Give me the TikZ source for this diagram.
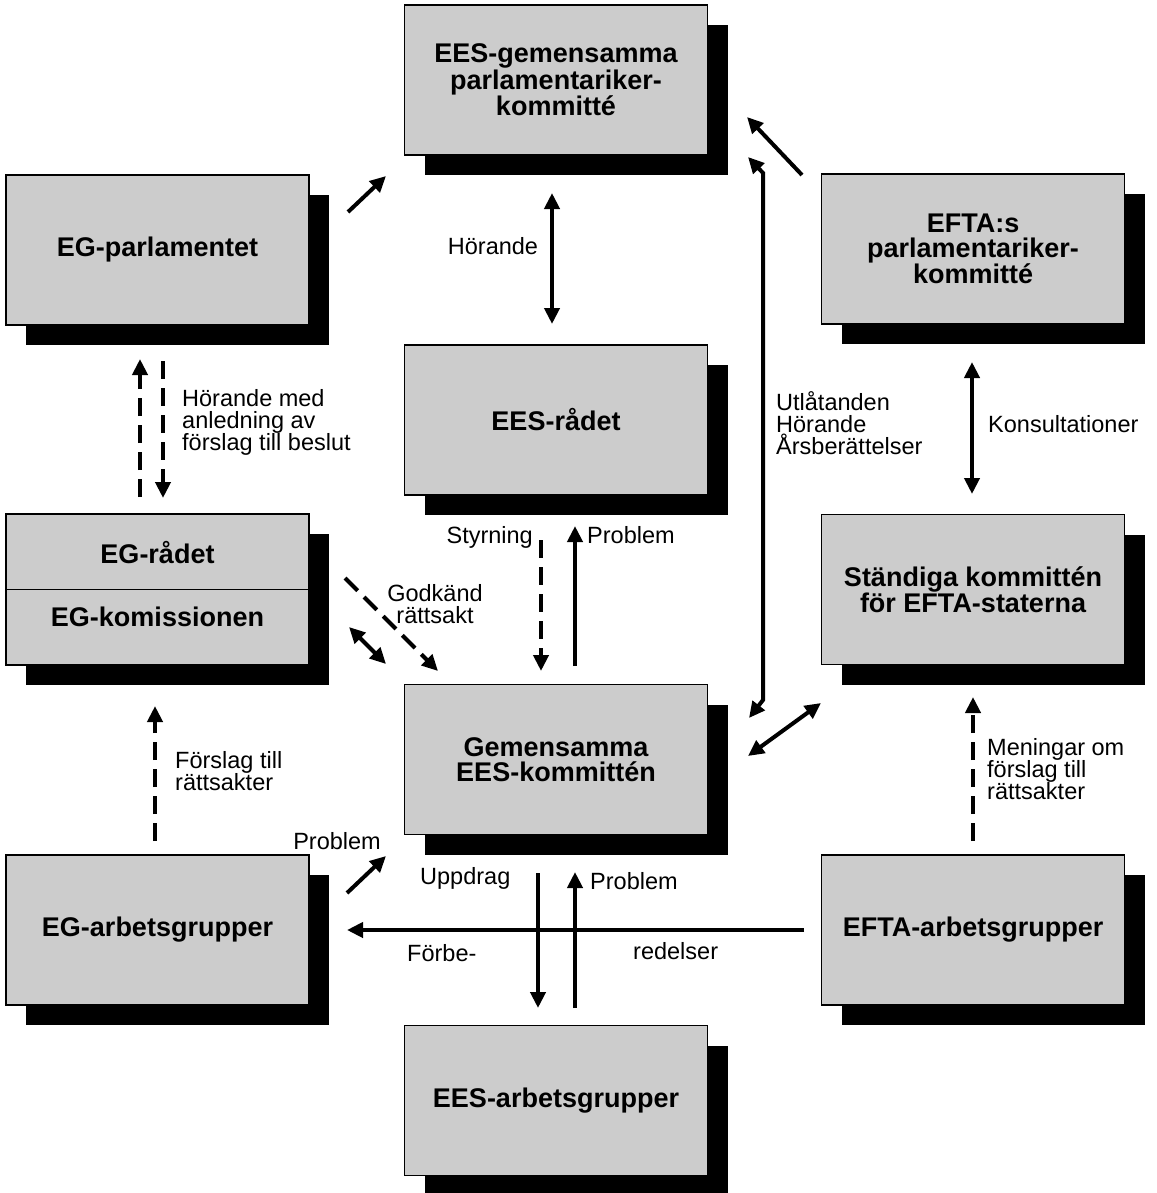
\documentclass[tikz,border=0pt]{standalone}
\usepackage{fontspec}
\setmainfont{Liberation Sans}
\usetikzlibrary{arrows.meta,shadows}
\newcommand\bxfont{\bfseries\fontsize{27}{25}\selectfont}
\newcommand\lbfont{\fontsize{23.5}{22}\selectfont}
\begin{document}
\begin{tikzpicture}[x=1pt,y=-1pt,
  box/.style={draw=black, line width=1.4pt, fill=black!20, minimum width=303pt, minimum height=150pt,
    inner sep=0pt, align=center, font=\bxfont,
    drop shadow={shadow xshift=20pt, shadow yshift=-20pt, fill=black, opacity=1}},
  txt/.style={inner sep=0pt, align=center, font=\bxfont},
  lab/.style={inner sep=0pt, align=left, font=\lbfont},
  arr/.style={line width=4pt, -{Triangle[length=16pt,width=15pt]}},
  darr/.style={line width=4pt, {Triangle[length=16pt,width=15pt]}-{Triangle[length=16pt,width=15pt]}},
  dsh/.style={dash pattern=on 18pt off 9pt}]
\useasboundingbox (0,0) rectangle (1156,1193);

% boxes
\node[box] (eesgem) at (556,80) {EES-gemensamma\\parlamentariker-\\kommitté};
\node[box] (egparl) at (157.5,250) {EG-parlamentet};
\node[box] (eftas) at (973,249) {EFTA:s\\parlamentariker-\\kommitté};
\node[box] (eesrad) at (556,420) {EES-rådet};
\node[box, minimum height=151pt] (egr) at (157.5,589.5) {};
\draw[line width=1.4pt] (egr.west) -- (egr.east);
\node[txt] (egrad) at (157.5,553) {EG-rådet};
\node[txt] (egkom) at (157.5,617) {EG-komissionen};
\node[box] (stand) at (973,589.5) {Ständiga kommittén\\för EFTA-staterna};
\node[box] (gem) at (556,759.5) {Gemensamma\\EES-kommittén};
\node[box] (egarb) at (157.5,930) {EG-arbetsgrupper};
\node[box] (eftaarb) at (973,930) {EFTA-arbetsgrupper};
\node[box] (eesarb) at (556,1100.5) {EES-arbetsgrupper};

% connector end points
\coordinate (p1a) at (348,212); \coordinate (p1b) at (386,176);
\coordinate (p2a) at (802,175); \coordinate (p2b) at (747,117);
\coordinate (u1) at (748,157); \coordinate (u2) at (763,173); \coordinate (u3) at (763,700); \coordinate (u4) at (749,718);
\coordinate (g1) at (748,756); \coordinate (g2) at (821,703);
\coordinate (h1) at (552,193); \coordinate (h2) at (552,324);
\coordinate (k1) at (972,362); \coordinate (k2) at (972,494);
\coordinate (e1) at (140,497); \coordinate (e2) at (140,359);
\coordinate (e3) at (163,361); \coordinate (e4) at (163,498);
\coordinate (s1) at (541,540); \coordinate (s2) at (541,671);
\coordinate (q1) at (575,666); \coordinate (q2) at (575,526);
\coordinate (d1) at (345,578); \coordinate (d2) at (438,671);
\coordinate (b1) at (349,627); \coordinate (b2) at (386,664);
\coordinate (f1) at (155,841); \coordinate (f2) at (155,706);
\coordinate (m1) at (973,841); \coordinate (m2) at (973,697);
\coordinate (r1) at (347,893); \coordinate (r2) at (386,856);
\coordinate (w1) at (538,873); \coordinate (w2) at (538,1008);
\coordinate (z1) at (575,1008); \coordinate (z2) at (575,872);
\coordinate (x1) at (804,930); \coordinate (x2) at (347,930);

% connectors
\draw[arr] (p1a) -- (p1b);
\draw[arr] (p2a) -- (p2b);
\draw[darr] (u1) -- (u2) -- (u3) -- (u4);
\draw[darr] (g1) -- (g2);
\draw[darr] (h1) -- (h2);
\draw[darr] (k1) -- (k2);
\draw[arr,dsh] (e1) -- (e2);
\draw[arr,dsh] (e3) -- (e4);
\draw[arr,dsh] (s1) -- (s2);
\draw[arr] (q1) -- (q2);
\draw[arr,dsh] (d1) -- (d2);
\draw[darr] (b1) -- (b2);
\draw[arr,dsh] (f1) -- (f2);
\draw[arr,dsh] (m1) -- (m2);
\draw[arr] (r1) -- (r2);
\draw[arr] (w1) -- (w2);
\draw[arr] (z1) -- (z2);
\draw[arr] (x1) -- (x2);

% labels
\node[lab] (lh) at (493,246) {Hörande};
\node[lab, anchor=west] (lhm) at (182,422) {Hörande med\\anledning av\\förslag till beslut};
\node[lab, anchor=east] (lst) at (533,537) {Styrning};
\node[lab, anchor=west] (lpr1) at (587,535) {Problem};
\node[lab, align=center] (lgo) at (435,604) {Godkänd\\rättsakt};
\node[lab, anchor=west] (lut) at (776,423) {Utlåtanden\\Hörande\\Årsberättelser};
\node[lab, anchor=west] (lko) at (988,424) {Konsultationer};
\node[lab, anchor=west] (lfo) at (175,771) {Förslag till\\rättsakter};
\node[lab, anchor=west] (lme) at (987,769) {Meningar om\\förslag till\\rättsakter};
\node[lab] (lpr2) at (337,841) {Problem};
\node[lab, anchor=west] (lup) at (420,878) {Uppdrag};
\node[lab, anchor=west] (lpr3) at (590,881) {Problem};
\node[lab, anchor=west] (lfb) at (407,953) {Förbe-};
\node[lab, anchor=west] (lre) at (633,951) {redelser};
\end{tikzpicture}
\end{document}
